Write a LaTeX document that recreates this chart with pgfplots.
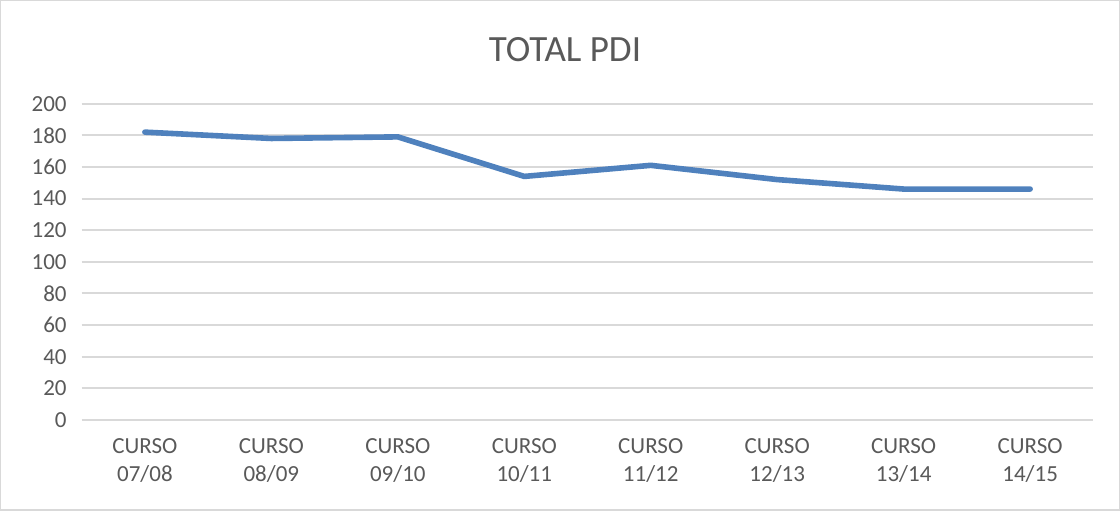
\documentclass[border=0pt]{standalone}
\usepackage{fontspec}
\setmainfont{Carlito}
\usepackage{pgfplots}
\pgfplotsset{compat=1.18}
\definecolor{txt}{HTML}{595959}
\definecolor{grid}{HTML}{D9D9D9}
\definecolor{line}{HTML}{4F81BD}
\begin{document}
\begin{tikzpicture}
\path[draw=grid, line width=0.6pt] (0.5pt,0.5pt) rectangle (559.5pt,255pt);
\begin{axis}[
  at={(41pt,45.5pt)}, anchor=south west,
  scale only axis, width=505.5pt, height=158pt,
  xmin=-0.5, xmax=7.5, ymin=0, ymax=200,
  ytick={0,20,...,200},
  xtick={0,...,7},
  xticklabels={{CURSO\\07/08},{CURSO\\08/09},{CURSO\\09/10},{CURSO\\10/11},{CURSO\\11/12},{CURSO\\12/13},{CURSO\\13/14},{CURSO\\14/15}},
  xticklabel style={align=center, font=\fontsize{11.5}{14}\selectfont, text=txt, yshift=-6pt},
  yticklabel style={font=\fontsize{11.5}{14}\selectfont, text=txt, xshift=-4pt},
  /pgf/number format/assume math mode=true,
  axis line style={draw=none},
  major tick length=0pt,
  ymajorgrids, grid style={draw=grid, line width=1pt},
  clip=false,
]
\addplot[line, line width=2.8pt, line cap=round, line join=round] coordinates {
(0,182) (1,178) (2,179) (3,154) (4,161) (5,152) (6,146) (7,146)
};
\end{axis}
\node[text=txt, font=\fontsize{18.5}{20}\selectfont] at (282.5pt,230.5pt) {TOTAL PDI};
\end{tikzpicture}
\end{document}
